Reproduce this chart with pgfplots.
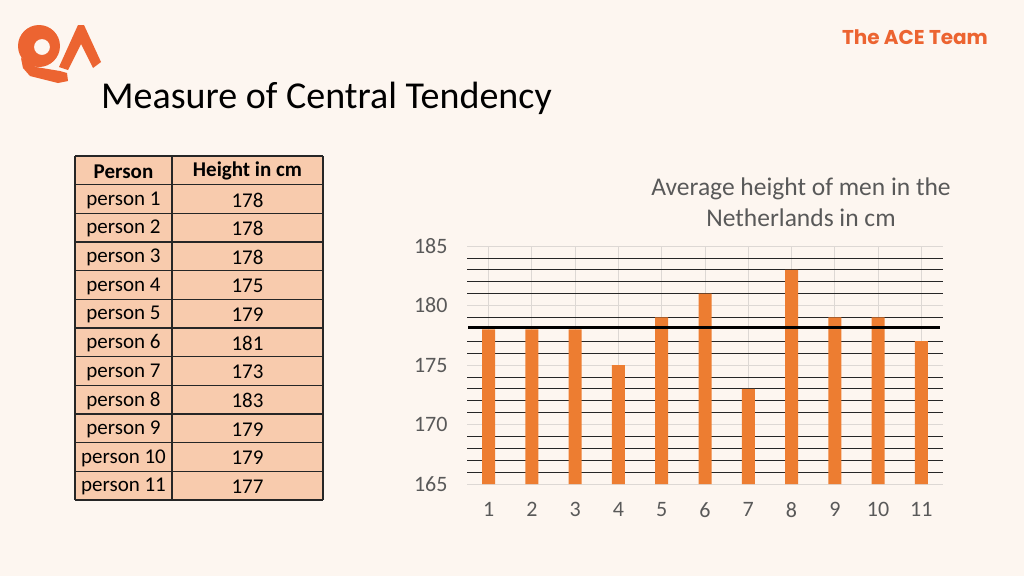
\documentclass[border=0pt]{standalone}
\usepackage{pgfplots}
\pgfplotsset{compat=1.18}
\usepackage{fontspec}
\setmainfont{Carlito}
\newfontfamily\poppins{Poppins}
\definecolor{bg}{HTML}{FDF6F0}
\definecolor{barorange}{HTML}{ED7D31}
\definecolor{logoorange}{HTML}{EC6431}
\definecolor{txtgray}{HTML}{595959}
\definecolor{cellfill}{HTML}{F8CBAD}
\definecolor{gridgray}{HTML}{DDD8D4}

\begin{document}
\begin{tikzpicture}
\begin{scope}[x=1pt,y=-1pt]
  \useasboundingbox (0,0) rectangle (1024,576);
  \fill[bg] (0,0) rectangle (1024,576);
  % logo
  \fill[logoorange,even odd rule] (39,46) circle (21) (42,47) circle (8);
  \fill[logoorange] (21,58) -- (36,67) -- (60,71) -- (67,73) -- (68,81) -- (58,83) -- (30,76) -- (23,68) -- cycle;
  \fill[logoorange] (59,67) -- (78,25) -- (84,25) -- (101,62) -- (93,68) -- (81,44) -- (68,70) -- cycle;
  % headings
  \node[anchor=base west, inner sep=0pt, font=\fontsize{38}{45}\selectfont] at (101,108) {Measure of Central Tendency};
  \node[font=\poppins\bfseries\fontsize{20}{24}\selectfont, text=logoorange] at (915,37) {The ACE Team};
  \node[align=center, font=\fontsize{25.5}{31}\selectfont, text=txtgray] at (801,202) {Average height of men in the\\Netherlands in cm};
  % table
  \fill[cellfill] (75,156) rectangle (323,500);
  \foreach \k in {0,...,12} \draw[black!85, line width=1.1pt] (75,156+\k*28.667) -- (323,156+\k*28.667);
  \foreach \xx in {75,172,323} \draw[black!85, line width=1.1pt] (\xx,156) -- (\xx,500);
  \node[font=\bfseries\fontsize{21}{25}\selectfont] at (123.5,171.3) {Person};
  \node[font=\bfseries\fontsize{21}{25}\selectfont] at (247.5,171.3) {Height in cm};
  \foreach \k/\h in {1/178,2/178,3/178,4/175,5/179,6/181,7/173,8/183,9/179,10/179,11/177} {
    \node[font=\fontsize{21}{25}\selectfont] at (123.5,171.3+\k*28.667) {person \k};
    \node[font=\fontsize{21}{25}\selectfont] at (247.5,171.3+\k*28.667) {\h};
  }
\end{scope}
\begin{axis}[
    at={(467pt,-484pt)}, anchor=south west,
    scale only axis, width=476pt, height=238pt,
    xmin=0.5, xmax=11.5, ymin=165, ymax=185,
    xtick={1,...,11},
    ytick={165,170,...,185},
    minor ytick={166,167,168,169,171,172,173,174,176,177,179,181,182,183,184},
    grid=both,
    major grid style={draw=gridgray, line width=1pt},
    minor grid style={draw=black!85, line width=0.8pt},
    axis line style={draw=none},
    tick style={draw=none},
    /pgf/number format/assume math mode=true,
    yticklabel style={font=\fontsize{22}{26}\selectfont, text=txtgray, xshift=-16pt},
    xticklabel style={font=\fontsize{22}{26}\selectfont, text=txtgray, yshift=-15pt},
]
\addplot[ybar, bar width=13pt, fill=barorange, draw=none] coordinates {
    (1,178) (2,178) (3,178) (4,175) (5,179) (6,181)
    (7,173) (8,183) (9,179) (10,179) (11,177)
};
\addplot[black, line width=2.8pt] coordinates {(0.53,178.18) (11.43,178.18)};
\end{axis}
\end{tikzpicture}
\end{document}
